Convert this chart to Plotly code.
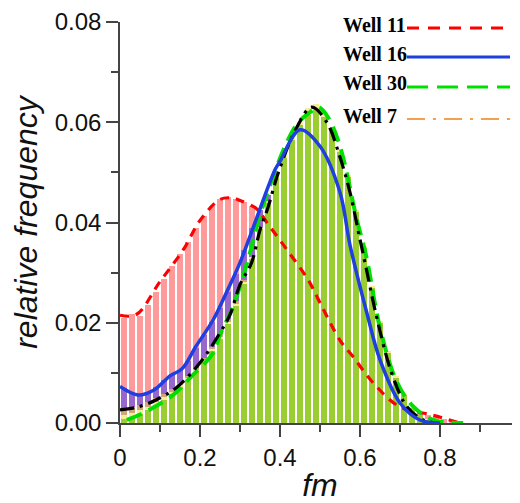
import plotly.graph_objects as go

# ---------------- data ----------------
bin_centers = [0.01, 0.03, 0.05, 0.07, 0.09, 0.11, 0.13, 0.15, 0.17, 0.19,
               0.21, 0.23, 0.25, 0.27, 0.29, 0.31, 0.33, 0.35, 0.37, 0.39,
               0.41, 0.43, 0.45, 0.47, 0.49, 0.51, 0.53, 0.55, 0.57, 0.59,
               0.61, 0.63, 0.65, 0.67, 0.69, 0.71, 0.73, 0.75, 0.77, 0.79,
               0.81, 0.83, 0.85]

bars_well11 = [0.0210, 0.0218, 0.0214, 0.0236, 0.0262, 0.0288, 0.0314, 0.0338, 0.0362, 0.0390,
               0.0412, 0.0432, 0.0446, 0.0450, 0.0447, 0.0440, 0.0432, 0.0420, 0.0402, 0.0378,
               0.0352, 0.0325, 0.0298, 0.0272, 0.0246, 0.0220, 0.0194, 0.0170, 0.0150, 0.0130,
               0.0112, 0.0092, 0.0074, 0.0058, 0.0043, 0.0032, 0.0025, 0.0020, 0.0016, 0.0011,
               0.0007, 0.0004, 0.0001]
bars_well16 = [0.0070, 0.0060, 0.0056, 0.0062, 0.0072, 0.0085, 0.0097, 0.0105, 0.0124, 0.0150,
               0.0176, 0.0202, 0.0230, 0.0262, 0.0298, 0.0345, 0.0390, 0.0425, 0.0455, 0.0490,
               0.0520, 0.0550, 0.0570, 0.0580, 0.0575, 0.0550, 0.0505, 0.0455, 0.0395, 0.0320,
               0.0245, 0.0175, 0.0120, 0.0080, 0.0050, 0.0030, 0.0015, 0.0006, 0.0002, 0.0,
               0.0, 0.0, 0.0]
bars_well7 = [0.0028, 0.0031, 0.0036, 0.0042, 0.0049, 0.0058, 0.0068, 0.0080, 0.0094, 0.0110,
              0.0130, 0.0152, 0.0178, 0.0208, 0.0244, 0.0285, 0.0330, 0.0378, 0.0428, 0.0475,
              0.0518, 0.0555, 0.0585, 0.0610, 0.0620, 0.0605, 0.0575, 0.0530, 0.0470, 0.0400,
              0.0320, 0.0245, 0.0175, 0.0115, 0.0070, 0.0040, 0.0020, 0.0008, 0.0003, 0.0,
              0.0, 0.0, 0.0]
bars_mix = [0.0016, 0.0020, 0.0026, 0.0032, 0.0041, 0.0051, 0.0062, 0.0075, 0.0090, 0.0106,
            0.0126, 0.0147, 0.0172, 0.0202, 0.0238, 0.0282, 0.0332, 0.0392, 0.0442, 0.0492,
            0.0532, 0.0568, 0.0600, 0.0628, 0.0636, 0.0618, 0.0586, 0.0545, 0.0494, 0.0424,
            0.0354, 0.0274, 0.0204, 0.0144, 0.0093, 0.0057, 0.0032, 0.0016, 0.0007, 0.0002,
            0.0, 0.0, 0.0]
bars_well30 = [0.0008, 0.0012, 0.0018, 0.0026, 0.0036, 0.0046, 0.0058, 0.0071, 0.0086, 0.0102,
               0.0122, 0.0143, 0.0168, 0.0198, 0.0234, 0.0278, 0.0328, 0.0388, 0.0438, 0.0488,
               0.0528, 0.0564, 0.0595, 0.0615, 0.0625, 0.0610, 0.0580, 0.0540, 0.0490, 0.0420,
               0.0350, 0.0270, 0.0200, 0.0140, 0.0090, 0.0055, 0.0030, 0.0015, 0.0006, 0.0002,
               0.0, 0.0, 0.0]

line11_x = [0.0, 0.04, 0.10, 0.16, 0.20, 0.25, 0.28, 0.30, 0.342, 0.367, 0.417, 0.47, 0.50,
            0.55, 0.583, 0.633, 0.70, 0.78, 0.85]
line11_y = [0.0215, 0.0216, 0.0282, 0.0348, 0.0404, 0.0446, 0.0449, 0.0444, 0.0427, 0.0400,
            0.0346, 0.0286, 0.0240, 0.0165, 0.0132, 0.0080, 0.0032, 0.0016, 0.0]

line16_x = [0.0, 0.045, 0.085, 0.125, 0.155, 0.19, 0.233, 0.267, 0.30, 0.333, 0.3875, 0.40,
            0.45, 0.50, 0.55, 0.575, 0.617, 0.65, 0.70, 0.75, 0.80]
line16_y = [0.0073, 0.0056, 0.0066, 0.0094, 0.0108, 0.0153, 0.0206, 0.0262, 0.0320, 0.0390,
            0.0505, 0.0522, 0.0585, 0.0552, 0.0460, 0.0355, 0.0220, 0.0126, 0.0040, 0.0006, 0.0]

line30_x = [0.017, 0.058, 0.133, 0.175, 0.233, 0.25, 0.283, 0.325, 0.35, 0.417, 0.446, 0.475,
            0.496, 0.52, 0.55, 0.592, 0.615, 0.65, 0.692, 0.733, 0.783, 0.858]
line30_y = [0.0006, 0.0020, 0.0056, 0.0090, 0.0140, 0.0176, 0.0233, 0.0340, 0.0415, 0.0560,
            0.0600, 0.0620, 0.0630, 0.0610, 0.0552, 0.0406, 0.0335, 0.0190, 0.0082, 0.0033,
            0.0006, 0.0]

line7_x = [0.0, 0.045, 0.09, 0.14, 0.20, 0.25, 0.275, 0.30, 0.329, 0.35, 0.37, 0.396, 0.442,
           0.479, 0.517, 0.55, 0.575, 0.60, 0.6125, 0.642, 0.679, 0.717, 0.758, 0.79]
line7_y = [0.0026, 0.0032, 0.0046, 0.0070, 0.0120, 0.0180, 0.0216, 0.0276, 0.0320, 0.0385,
           0.0430, 0.0500, 0.0590, 0.0630, 0.0600, 0.0530, 0.0460, 0.0366, 0.0320, 0.0210,
           0.0100, 0.0033, 0.0006, 0.0]

legend_names = ["Well 11", "Well 16", "Well 30", "Well 7"]
x_ticks = [0, 0.2, 0.4, 0.6, 0.8, 1]
x_tick_text = ["0", "0.2", "0.4", "0.6", "0.8", "1"]
y_ticks = [0.0, 0.02, 0.04, 0.06, 0.08]
y_tick_text = ["0.00", "0.02", "0.04", "0.06", "0.08"]

# ---------------- figure ----------------
fig = go.Figure()

bar_layers = [
    (bars_well11, "#ff9a9a"),
    (bars_well16, "#9966cc"),
    (bars_well7, "#d2a677"),
    (bars_mix, "#f8ec9a"),
    (bars_well30, "#9acd32"),
]
for vals, col in bar_layers:
    fig.add_trace(go.Bar(x=bin_centers, y=vals, width=0.0135,
                         marker=dict(color=col, line=dict(width=0)),
                         showlegend=False, hoverinfo="skip"))

LW = 3.2
fig.add_trace(go.Scatter(x=line11_x, y=line11_y, mode="lines", line_shape="spline",
                         line=dict(color="#ff0000", width=LW, dash="9px,7px"),
                         showlegend=False))
fig.add_trace(go.Scatter(x=line30_x, y=line30_y, mode="lines", line_shape="spline",
                         line=dict(color="#00e000", width=LW + 0.8, dash="16px,8px"),
                         showlegend=False))
fig.add_trace(go.Scatter(x=line7_x, y=line7_y, mode="lines", line_shape="spline",
                         line=dict(color="#000000", width=LW, dash="14px,6px,3px,6px"),
                         showlegend=False))
fig.add_trace(go.Scatter(x=line16_x, y=line16_y, mode="lines", line_shape="spline",
                         line=dict(color="#1f3fe0", width=LW + 0.3),
                         showlegend=False))

# Page body has an 8px default margin; figure is sized so the plot sits where the reference's does.
OFF = 8
FIG_W, FIG_H = 520 - OFF, 503 - OFF
ML, MT, MB = 120 - OFF, 22 - OFF, 80

# ------------- legend (text left, sample right) -------------
plot_w = FIG_W - ML
plot_h = FIG_H - MT - MB
def px(xp):
    return (xp - OFF - ML) / plot_w
def py(yp):
    return (FIG_H - MB - (yp - OFF)) / plot_h

legend_styles = [
    ("#ff0000", "12px,9px", 25, 28, 3),
    ("#1f3fe0", "solid", 54, 57, 3),
    ("#00e000", "21px,9px", 83, 87, 3),
    ("#f4a050", "18px,8px,3px,8px", 116, 119, 2),
]
for name, (col, dash, ty, ly, lw) in zip(legend_names, legend_styles):
    fig.add_annotation(x=px(341), y=py(ty), xref="paper", yref="paper",
                       text="<b>%s</b>" % name, showarrow=False,
                       xanchor="left", yanchor="middle",
                       font=dict(family="Liberation Serif, Times New Roman, serif",
                                 size=20, color="#000000"))
    fig.add_shape(type="line", xref="paper", yref="paper",
                  x0=px(407), x1=px(510), y0=py(ly), y1=py(ly),
                  line=dict(color=col, width=lw, dash=dash))

axis_font = dict(family="Liberation Sans, Arial, sans-serif", size=24, color="#111111")
fig.update_layout(
    width=FIG_W, height=FIG_H,
    margin=dict(l=ML, r=0, t=MT, b=MB, autoexpand=False),
    paper_bgcolor="white", plot_bgcolor="white",
    barmode="overlay", bargap=0,
    showlegend=False,
    xaxis=dict(range=[0, 1], tickvals=x_ticks, ticktext=x_tick_text,
               ticks="outside", ticklen=12, tickwidth=1.5, tickcolor="#444444",
               showline=True, linecolor="#444444", linewidth=1.5,
               showgrid=False, zeroline=False, tickfont=axis_font,
               ticklabeloverflow="allow",
               minor=dict(dtick=0.1, tick0=0, ticks="outside", ticklen=7,
                          tickwidth=1.5, tickcolor="#444444", showgrid=False),
               title=dict(text="<i>fm</i>", standoff=10,
                          font=dict(family="Liberation Sans, Arial, sans-serif",
                                    size=32, color="#111111")),
               automargin=False),
    yaxis=dict(range=[0, 0.08], tickvals=y_ticks, ticktext=y_tick_text,
               ticks="outside", ticklen=12, tickwidth=1.5, tickcolor="#444444",
               showline=True, linecolor="#444444", linewidth=1.5,
               showgrid=False, zeroline=False, tickfont=axis_font,
               minor=dict(dtick=0.01, tick0=0, ticks="outside", ticklen=7,
                          tickwidth=1.5, tickcolor="#444444", showgrid=False),
               title=dict(text="<i>relative frequency</i>", standoff=8,
                          font=dict(family="Liberation Sans, Arial, sans-serif",
                                    size=32, color="#111111")),
               automargin=False),
)

fig.write_html("out.html")
